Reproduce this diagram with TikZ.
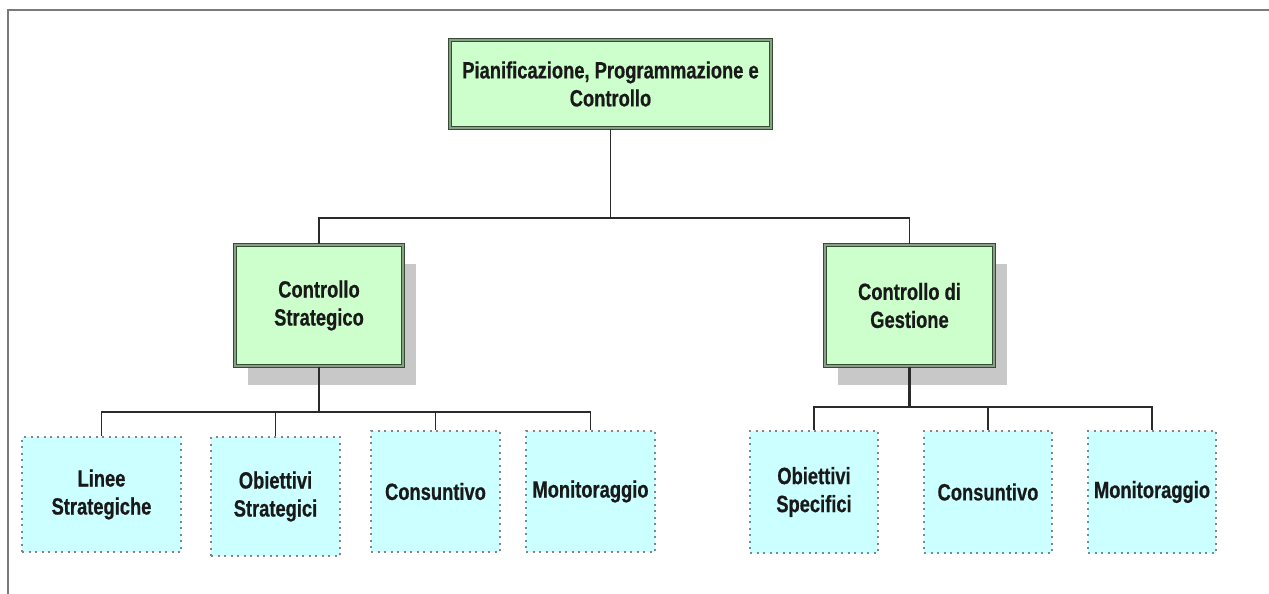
\documentclass[tikz,border=0pt]{standalone}
\usepackage{fontspec}
\setmainfont[FakeStretch=0.78, BoldFeatures={FakeBold=0.6}]{Liberation Sans}
\usetikzlibrary{shadows}
\definecolor{gfill}{HTML}{CCFFCC}
\definecolor{gdraw}{HTML}{354C35}
\definecolor{gmid}{HTML}{88A088}
\definecolor{cfill}{HTML}{CCFFFF}
\definecolor{cdraw}{HTML}{7A8890}
\definecolor{shadowc}{HTML}{C8C8C8}
\definecolor{linec}{HTML}{2A2A2A}
\definecolor{framec}{HTML}{7A7A7A}
\begin{document}
\begin{tikzpicture}[x=1pt,y=-1pt,
  every node/.style={font=\fontsize{23.5}{28}\selectfont\bfseries, align=center, inner sep=0pt, text=black!90},
  greenbox/.style={draw=gdraw, double=gmid, double distance=1.5pt, line width=1.2pt, fill=gfill},
  shadowbox/.style={greenbox, drop shadow={shadow xshift=13pt, shadow yshift=-19pt, fill=shadowc, opacity=1}},
  cyanbox/.style={draw=cdraw, fill=cfill, line width=2pt, dash pattern=on 2pt off 4.5pt},
  conn/.style={draw=linec, line width=1.8pt}]
\useasboundingbox (0,0) rectangle (1269,594);
\fill[white] (0,0) rectangle (1269,594);
\draw[framec, line width=2.5pt] (8,594) -- (8,10) -- (1269,10);

% top
\node[greenbox, minimum width=321pt, minimum height=88pt] (top) at (610.5,84) {Pianificazione, Programmazione e\\Controllo};
% second level
\node[shadowbox, minimum width=168pt, minimum height=121pt] (cs) at (319,305.5) {Controllo\\Strategico};
\node[shadowbox, minimum width=169pt, minimum height=121pt] (cg) at (909.5,305.5) {Controllo di\\Gestione};
% left children
\node[cyanbox, minimum width=159pt, minimum height=115pt] (ls) at (101.5,494.5) {Linee\\Strategiche};
\node[cyanbox, minimum width=129pt, minimum height=119pt] (os) at (275.5,496.5) {Obiettivi\\Strategici};
\node[cyanbox, minimum width=129pt, minimum height=121pt] (c1) at (435.5,491.5) {Consuntivo};
\node[cyanbox, minimum width=129pt, minimum height=121pt] (m1) at (590.5,491.5) {Monitoraggio};
% right children
\node[cyanbox, minimum width=128pt, minimum height=122pt] (osp) at (814,492) {Obiettivi\\Specifici};
\node[cyanbox, minimum width=128pt, minimum height=122pt] (c2) at (988,492) {Consuntivo};
\node[cyanbox, minimum width=128pt, minimum height=122pt] (m2) at (1152,492) {Monitoraggio};

% connectors
\coordinate (b1) at (610.5,218);
\coordinate (b2) at (319,412);
\coordinate (b3) at (909.5,407);
\draw[conn] (top.south) -- (b1);
\draw[conn] (cs.north) |- (b1) -| (cg.north);
\draw[conn, line width=2.4pt] (cs.south) -- (b2);
\draw[conn] (ls.north) |- (b2) -| (m1.north);
\draw[conn] (os.north) -- (os.north |- b2);
\draw[conn] (c1.north) -- (c1.north |- b2);
\draw[conn, line width=2.4pt] (cg.south) -- (b3);
\draw[conn] (osp.north) |- (b3) -| (m2.north);
\draw[conn] (c2.north) -- (c2.north |- b3);
\end{tikzpicture}
\end{document}
